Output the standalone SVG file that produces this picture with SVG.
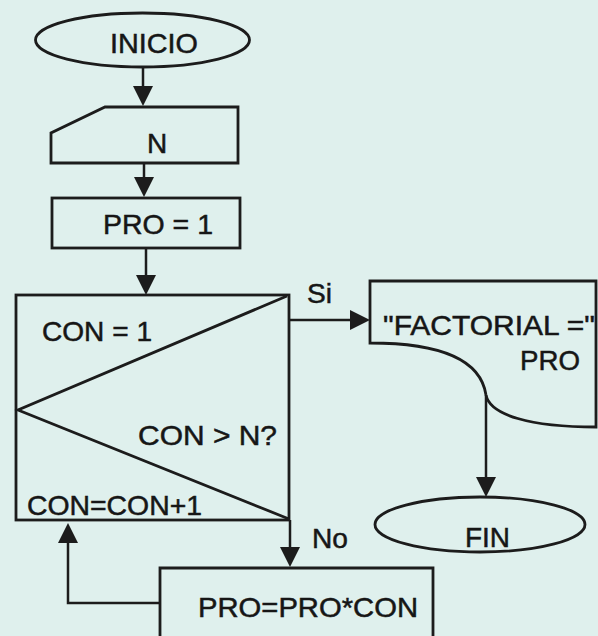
<svg xmlns="http://www.w3.org/2000/svg" width="598" height="636" viewBox="0 0 598 636">
<defs>
<style>
.shape{fill:none;stroke:#1c1c1c;stroke-width:2.8;stroke-linejoin:miter}
.line{fill:none;stroke:#1c1c1c;stroke-width:2.5}
.t{font-family:"Liberation Sans",Arial,sans-serif;font-size:28px;fill:#161616;stroke:#161616;stroke-width:0.5}
</style>
<marker id="arr" markerUnits="userSpaceOnUse" markerWidth="20" markerHeight="20" viewBox="0 0 20 20" refX="0" refY="10" orient="auto">
<path d="M0,0 L20,10 L0,20 Z" fill="#1c1c1c"/>
</marker>
</defs>
<rect width="598" height="636" fill="#dff0ed"/>

<g id="inicio">
<ellipse class="shape" cx="142.5" cy="40" rx="107" ry="27"/>
<text class="t" x="110" y="53" textLength="88" lengthAdjust="spacingAndGlyphs">INICIO</text>
</g>

<g id="input-n">
<path class="shape" d="M105,107 H238 V163 H51 V133 Z"/>
<text class="t" x="157" y="153" text-anchor="middle">N</text>
</g>

<g id="pro-1">
<rect class="shape" x="52" y="198" width="188" height="50"/>
<text class="t" x="103" y="234" textLength="110" lengthAdjust="spacingAndGlyphs">PRO = 1</text>
</g>

<g id="loop">
<rect class="shape" x="16" y="295" width="273" height="225"/>
<polyline class="shape" points="287,296 18,410 289,519"/>
<text class="t" x="42" y="341" textLength="110" lengthAdjust="spacingAndGlyphs">CON = 1</text>
<text class="t" x="138" y="445" textLength="139" lengthAdjust="spacingAndGlyphs">CON &gt; N?</text>
<text class="t" x="27" y="515" textLength="175" lengthAdjust="spacingAndGlyphs">CON=CON+1</text>
</g>

<g id="output">
<path class="shape" d="M370,281 H596 V427 C530,427 490,415 486,395 C480,355 430,343 370,343 Z"/>
<text class="t" x="383" y="335" textLength="212" lengthAdjust="spacingAndGlyphs">"FACTORIAL ="</text>
<text class="t" x="520" y="370" textLength="60" lengthAdjust="spacingAndGlyphs">PRO</text>
</g>

<g id="fin">
<ellipse class="shape" cx="480" cy="524.5" rx="105" ry="27.5"/>
<text class="t" x="465" y="547" textLength="45" lengthAdjust="spacingAndGlyphs">FIN</text>
</g>

<g id="pro-pro-con">
<path class="shape" d="M160,640 V568 H433 V640"/>
<text class="t" x="198" y="617" textLength="220" lengthAdjust="spacingAndGlyphs">PRO=PRO*CON</text>
</g>

<g id="connectors">
<line class="line" x1="143" y1="67" x2="143" y2="86" marker-end="url(#arr)"/>
<line class="line" x1="144" y1="163" x2="144" y2="177" marker-end="url(#arr)"/>
<line class="line" x1="146" y1="248" x2="146" y2="275" marker-end="url(#arr)"/>
<line class="line" x1="289" y1="320" x2="350" y2="320" marker-end="url(#arr)"/>
<line class="line" x1="486" y1="395" x2="486" y2="477" marker-end="url(#arr)"/>
<line class="line" x1="290" y1="520" x2="290" y2="547" marker-end="url(#arr)"/>
<polyline class="line" points="160,603 68,603 68,543" marker-end="url(#arr)"/>
<text class="t" x="307" y="303" textLength="25" lengthAdjust="spacingAndGlyphs">Si</text>
<text class="t" x="312" y="548" textLength="36" lengthAdjust="spacingAndGlyphs">No</text>
</g>
</svg>
